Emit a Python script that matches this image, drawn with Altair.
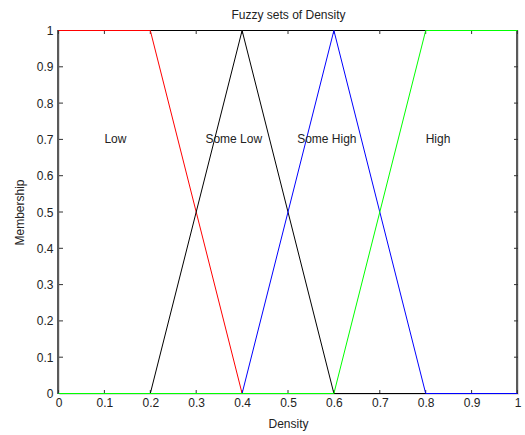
import altair as alt
import pandas as pd

# Membership function vertices
low_x = [0.0, 0.2, 0.4, 1.0]
low_y = [1.0, 1.0, 0.0, 0.0]
somelow_x = [0.0, 0.2, 0.4, 0.6, 1.0]
somelow_y = [0.0, 0.0, 1.0, 0.0, 0.0]
somehigh_x = [0.0, 0.4, 0.6, 0.8, 1.0]
somehigh_y = [0.0, 0.0, 1.0, 0.0, 0.0]
high_x = [0.0, 0.6, 0.8, 1.0]
high_y = [0.0, 0.0, 1.0, 1.0]

series = [
    ("Low", low_x, low_y, "#ff0000"),
    ("Some Low", somelow_x, somelow_y, "#000000"),
    ("Some High", somehigh_x, somehigh_y, "#0000ff"),
    ("High", high_x, high_y, "#00ff00"),
]

label_text = ["Low", "Some Low", "Some High", "High"]
label_x = [0.1, 0.32, 0.52, 0.8]
label_y = [0.7, 0.7, 0.7, 0.7]

tick_values = [0.0, 0.1, 0.2, 0.3, 0.4, 0.5, 0.6, 0.7, 0.8, 0.9, 1.0]

W, H = 459, 364
FONT = "Liberation Sans"
TL = 4

# half-pixel offset keeps the 1px lines crisp
xscale = alt.Scale(domain=[0, 1], nice=False, zero=False, range=[-0.5, W - 0.5])
yscale = alt.Scale(domain=[0, 1], nice=False, zero=False, range=[H - 0.5, 0.5])

xaxis = alt.Axis(values=tick_values, format="~g", ticks=False, domain=False, grid=False,
                 labelFont=FONT, labelFontSize=12, labelColor="#222", labelPadding=3,
                 title="Density", titleFont=FONT, titleFontSize=12, titleFontWeight="normal",
                 titleColor="#222", titlePadding=10, labelFlush=False, zindex=0)
yaxis = alt.Axis(values=tick_values, format="~g", ticks=False, domain=False, grid=False,
                 labelFont=FONT, labelFontSize=12, labelColor="#222", labelPadding=6,
                 title="Membership", titleFont=FONT, titleFontSize=12, titleFontWeight="normal",
                 titleColor="#222", titlePadding=10, labelFlush=False, zindex=0)

def X(field):
    return alt.X(field, scale=xscale, axis=xaxis)

def Y(field):
    return alt.Y(field, scale=yscale, axis=yaxis)

# frame of the axes box (drawn first, so curves lie on top of it)
frame_src = pd.DataFrame({"k": [0]})
border_top = alt.Chart(frame_src).mark_rule(color="#000000", strokeWidth=1).encode(
    x=alt.value(-1), x2=alt.value(W), y=alt.value(0.5))
border_left = alt.Chart(frame_src).mark_rule(color="#5a5a5a", strokeWidth=2).encode(
    x=alt.value(-1), y=alt.value(0), y2=alt.value(H))
border_right = alt.Chart(frame_src).mark_rule(color="#5a5a5a", strokeWidth=2).encode(
    x=alt.value(W - 1), y=alt.value(0), y2=alt.value(H))

layers = []
for name, xs, ys, col in series:
    df = pd.DataFrame({"x": xs, "y": ys, "order": list(range(len(xs)))})
    layers.append(alt.Chart(df).mark_line(color=col, strokeWidth=1).encode(
        x=X("x:Q"), y=Y("y:Q"), order="order:O"))

ticks = pd.DataFrame({"v": tick_values})
tick_col = "#333"
bottom_ticks = alt.Chart(ticks).mark_rule(color=tick_col, strokeWidth=1).encode(
    x=X("v:Q"), y=alt.value(H), y2=alt.value(H - TL))
top_ticks = alt.Chart(ticks).mark_rule(color=tick_col, strokeWidth=1).encode(
    x=X("v:Q"), y=alt.value(0), y2=alt.value(TL))
left_ticks = alt.Chart(ticks).mark_rule(color=tick_col, strokeWidth=1).encode(
    y=Y("v:Q"), x=alt.value(0), x2=alt.value(TL))
right_ticks = alt.Chart(ticks).mark_rule(color=tick_col, strokeWidth=1).encode(
    y=Y("v:Q"), x=alt.value(W), x2=alt.value(W - TL))

labels_df = pd.DataFrame({"t": label_text, "x": label_x, "y": label_y})
labels = alt.Chart(labels_df).mark_text(
    align="left", baseline="middle", font=FONT, fontSize=12, color="#222"
).encode(x=X("x:Q"), y=Y("y:Q"), text="t:N")

chart = alt.layer(
    border_top, border_left, border_right,
    bottom_ticks, top_ticks, left_ticks, right_ticks,
    *layers, labels
).properties(
    width=W, height=H,
    title=alt.TitleParams("Fuzzy sets of Density", font=FONT, fontSize=12,
                          fontWeight="normal", color="#222", offset=3),
    autosize=alt.AutoSizeParams(type="none"),
    padding={"left": 59, "top": 30, "right": 7, "bottom": 41},
).configure_view(
    stroke=None
).configure_axis(
    domain=False, ticks=False, grid=False
).configure(background="white")

chart.save("out.html", embed_options={"renderer": "svg", "actions": False})
